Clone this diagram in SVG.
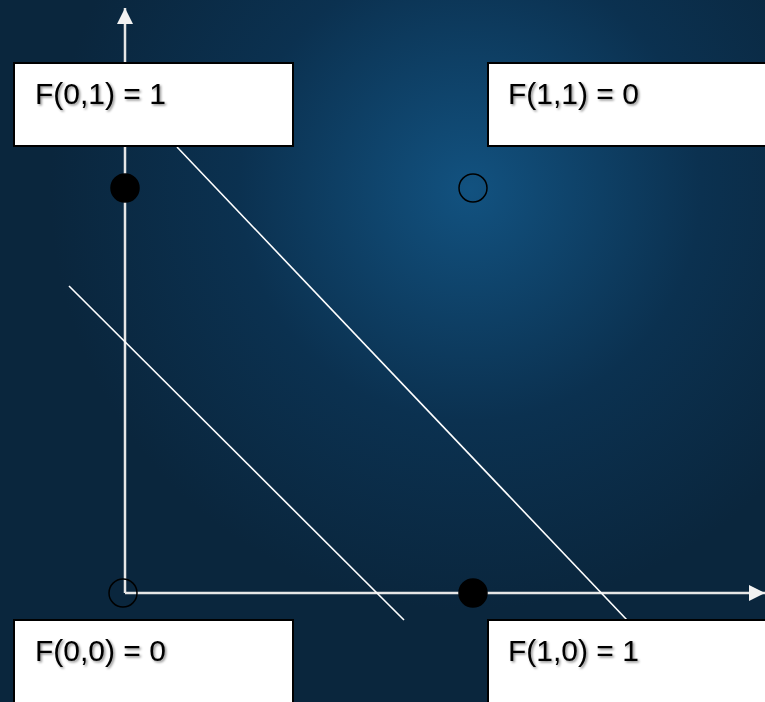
<svg xmlns="http://www.w3.org/2000/svg" width="765" height="702" viewBox="0 0 765 702">
<defs>
<radialGradient id="bg" gradientUnits="userSpaceOnUse" cx="470" cy="190" r="420">
<stop offset="0" stop-color="#125280"/>
<stop offset="0.55" stop-color="#0b3150"/>
<stop offset="1" stop-color="#0a263d"/>
</radialGradient>
<marker id="arrL" viewBox="0 0 16 16" refX="16" refY="8" markerWidth="16" markerHeight="16" markerUnits="userSpaceOnUse" orient="auto">
<path d="M0,0 L16,8 L0,16 z" fill="#f2f2f2"/>
</marker>
<filter id="sh" x="-10%" y="-30%" width="130%" height="160%">
<feDropShadow dx="1.5" dy="1.5" stdDeviation="0.8" flood-color="#000" flood-opacity="0.45"/>
</filter>
<style>
.box{fill:#fff;stroke:#000;stroke-width:2}
.lbl{font-family:"Liberation Sans",Arial,sans-serif;font-size:30px;fill:#000;filter:url(#sh)}
.axis{stroke:#e6e6e6;stroke-width:2.5;fill:none}
.sep{stroke:#fff;stroke-width:1.6;fill:none}
.dot{fill:#000;stroke:#000;stroke-width:1.5}
.hole{fill:none;stroke:#000;stroke-width:1.5}
</style>
</defs>
<rect width="765" height="702" fill="url(#bg)"/>
<g id="connectors">
<line class="axis" x1="125" y1="593" x2="125" y2="8" marker-end="url(#arrL)"/>
<line class="axis" x1="125" y1="593" x2="765" y2="593" marker-end="url(#arrL)"/>
<line class="sep" x1="177" y1="147" x2="627" y2="620"/>
<line class="sep" x1="69" y1="286" x2="404" y2="620"/>
</g>
<g id="p01"><circle class="dot" cx="125" cy="188" r="14"/></g>
<g id="p11"><circle class="hole" cx="473" cy="188" r="14"/></g>
<g id="p00"><circle class="hole" cx="123" cy="593" r="14"/></g>
<g id="p10"><circle class="dot" cx="473" cy="593" r="14"/></g>
<g id="n01"><rect class="box" x="14" y="63" width="279" height="83"/><text class="lbl" x="35" y="104">F(0,1) = 1</text></g>
<g id="n11"><rect class="box" x="488" y="63" width="280" height="83"/><text class="lbl" x="508" y="104">F(1,1) = 0</text></g>
<g id="n00"><rect class="box" x="14" y="620" width="279" height="85"/><text class="lbl" x="35" y="661">F(0,0) = 0</text></g>
<g id="n10"><rect class="box" x="488" y="620" width="280" height="85"/><text class="lbl" x="508" y="661">F(1,0) = 1</text></g>
</svg>
